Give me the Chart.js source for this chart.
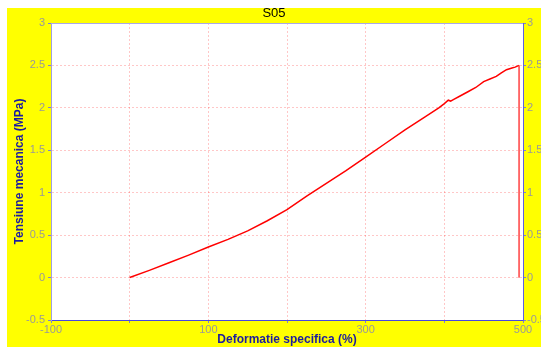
<!DOCTYPE html>
<html>
<head>
<meta charset="utf-8">
<script src="https://cdn.jsdelivr.net/npm/chart.js@4"></script>
<style>
  html, body { margin: 0; padding: 0; background: #fff; overflow: hidden; }
  #wrap { position: absolute; left: 7px; top: 8px; width: 534px; height: 339px; background: #ffff00; }
</style>
</head>
<body>
<div id="wrap"><canvas id="chart" width="534" height="339"></canvas></div>
<script>
// strain (%) and stress (MPa)
const strainPct = [0, 25, 50, 75, 100, 125, 150, 175, 200, 225, 250, 275, 300, 325, 350, 375, 393, 400, 405, 408, 412, 420, 430, 440, 450, 458, 466, 472, 479, 486, 490, 495, 495];
const stressMPa = [0, 0.085, 0.175, 0.265, 0.36, 0.45, 0.55, 0.67, 0.80, 0.96, 1.11, 1.26, 1.42, 1.58, 1.74, 1.89, 2.0, 2.05, 2.09, 2.08, 2.10, 2.14, 2.19, 2.24, 2.31, 2.34, 2.37, 2.41, 2.45, 2.47, 2.48, 2.5, 0];

const xTickLabels = [-100, 100, 300, 500];
const xRange = [-100, 500];
const yRange = [-0.5, 3];

const tickFont = { family: 'Liberation Sans, Arial, sans-serif', size: 11 };
const titleFont = { family: 'Liberation Sans, Arial, sans-serif', size: 12, weight: 'bold' };
const gridRed = 'rgba(255, 0, 0, 0.22)';

function fixSize(prop, size) {
  return scale => {
    scale[prop] = size;
    scale.paddingLeft = 0;
    scale.paddingRight = 0;
    scale.paddingTop = 0;
    scale.paddingBottom = 0;
  };
}

// white plot background and the top edge of the frame
const plotFrame = {
  id: 'plotFrame',
  beforeDraw(chart) {
    const { ctx, chartArea } = chart;
    ctx.save();
    ctx.fillStyle = '#fff';
    ctx.fillRect(chartArea.left, chartArea.top, chartArea.right - chartArea.left, chartArea.bottom - chartArea.top);
    ctx.restore();
  },
  afterDraw(chart) {
    const { ctx, chartArea } = chart;
    ctx.save();
    ctx.strokeStyle = '#a8a8e8';
    ctx.lineWidth = 1;
    ctx.beginPath();
    ctx.moveTo(chartArea.left, chartArea.top + 0.5);
    ctx.lineTo(chartArea.right, chartArea.top + 0.5);
    ctx.stroke();
    ctx.restore();
  }
};

const yLabel = v => String(v);
const lastSeg = strainPct.length - 2;

const ctx = document.getElementById('chart').getContext('2d');
new Chart(ctx, {
  type: 'scatter',
  data: {
    datasets: [{
      data: strainPct.map((x, i) => ({ x: x, y: stressMPa[i] })),
      showLine: true,
      borderColor: '#ff0000',
      borderWidth: 1.5,
      pointRadius: 0,
      tension: 0,
      yAxisID: 'y',
      segment: {
        // the unloading drop is drawn thin
        borderColor: c => c.p0DataIndex === lastSeg ? 'rgba(255, 60, 60, 0.7)' : undefined,
        borderWidth: c => c.p0DataIndex === lastSeg ? 1 : undefined
      }
    }]
  },
  plugins: [plotFrame],
  options: {
    responsive: false,
    animation: false,
    devicePixelRatio: 1,
    layout: { padding: 0 },
    plugins: {
      legend: { display: false },
      tooltip: { enabled: false },
      title: {
        display: true,
        text: 'S05',
        color: '#000',
        font: { family: 'Liberation Sans, Arial, sans-serif', size: 13, weight: 'normal', lineHeight: 1 },
        padding: { top: -1, bottom: 3 }
      }
    },
    scales: {
      x: {
        type: 'linear',
        position: 'bottom',
        min: xRange[0],
        max: xRange[1],
        afterFit: fixSize('height', 27),
        ticks: {
          stepSize: 100,
          autoSkip: false,
          maxRotation: 0,
          padding: 0,
          color: '#999',
          font: tickFont,
          callback: v => xTickLabels.includes(v) ? String(v) : ''
        },
        grid: { color: gridRed, tickColor: '#8080d0', tickLength: 3, tickBorderDash: [] },
        border: { color: '#4848e0', width: 1, dash: [2, 2] },
        title: { display: true, text: 'Deformatie specifica (%)', color: '#1c1ca0', font: titleFont, padding: 0 }
      },
      y: {
        type: 'linear',
        position: 'left',
        min: yRange[0],
        max: yRange[1],
        afterFit: fixSize('width', 44),
        ticks: { stepSize: 0.5, padding: 3, color: '#999', font: tickFont, callback: yLabel },
        grid: { color: gridRed, tickColor: '#8080d0', tickLength: 3, tickBorderDash: [] },
        border: { color: '#a0a0e0', width: 1, dash: [2, 2] },
        title: { display: true, text: 'Tensiune mecanica (MPa)', color: '#1c1ca0', font: titleFont, padding: { top: 5, bottom: 0 } }
      },
      y2: {
        type: 'linear',
        position: 'right',
        min: yRange[0],
        max: yRange[1],
        afterFit: fixSize('width', 18),
        ticks: { stepSize: 0.5, padding: 1, color: '#999', font: tickFont, callback: yLabel },
        grid: { drawOnChartArea: false, tickColor: '#8080d0', tickLength: 3 },
        border: { color: '#6060e0', width: 1 }
      }
    }
  }
});
</script>
</body>
</html>
